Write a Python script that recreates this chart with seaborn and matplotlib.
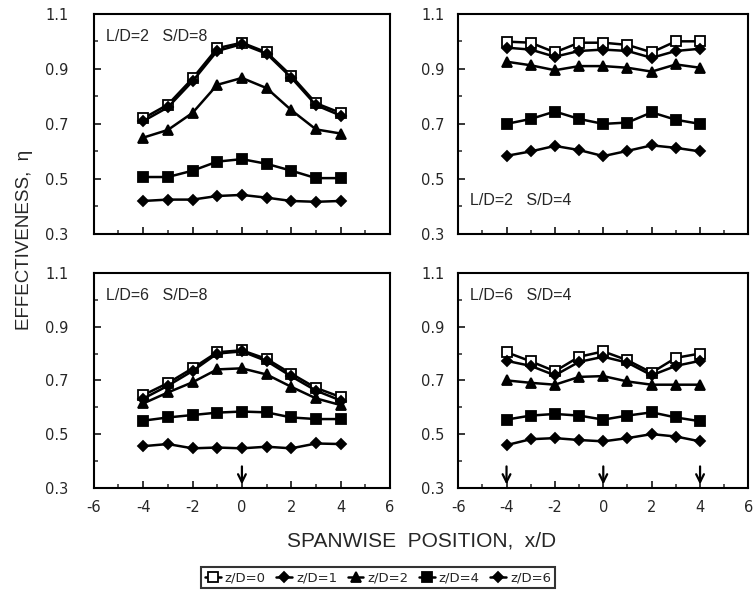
import matplotlib
matplotlib.use("Agg")
import matplotlib.pyplot as plt
import seaborn as sns
import pandas as pd
import numpy as np
from matplotlib.ticker import MultipleLocator

sns.set_theme(style="white")
plt.rcParams['font.family'] = ['Liberation Sans', 'DejaVu Sans']

x_pos = [-4, -3, -2, -1, 0, 1, 2, 3, 4]
series_names = ["z/D=0", "z/D=1", "z/D=2", "z/D=4", "z/D=6"]

# Panel L/D=2 S/D=8
p1_z0 = [0.72, 0.77, 0.865, 0.975, 0.995, 0.96, 0.875, 0.775, 0.74]
p1_z1 = [0.71, 0.76, 0.855, 0.965, 0.99, 0.955, 0.868, 0.768, 0.73]
p1_z2 = [0.65, 0.678, 0.74, 0.842, 0.867, 0.83, 0.75, 0.68, 0.665]
p1_z4 = [0.507, 0.507, 0.53, 0.563, 0.572, 0.555, 0.53, 0.503, 0.503]
p1_z6 = [0.42, 0.425, 0.425, 0.438, 0.442, 0.432, 0.42, 0.417, 0.42]

# Panel L/D=2 S/D=4
p2_z0 = [0.999, 0.995, 0.96, 0.995, 0.995, 0.987, 0.96, 1.0, 1.0]
p2_z1 = [0.977, 0.97, 0.944, 0.965, 0.97, 0.965, 0.94, 0.965, 0.973]
p2_z2 = [0.926, 0.913, 0.895, 0.91, 0.91, 0.904, 0.89, 0.916, 0.904]
p2_z4 = [0.70, 0.718, 0.745, 0.718, 0.70, 0.705, 0.742, 0.715, 0.70]
p2_z6 = [0.584, 0.60, 0.62, 0.605, 0.583, 0.602, 0.622, 0.613, 0.60]

# Panel L/D=6 S/D=8
p3_z0 = [0.645, 0.69, 0.745, 0.805, 0.812, 0.78, 0.725, 0.672, 0.638]
p3_z1 = [0.632, 0.68, 0.735, 0.80, 0.808, 0.772, 0.715, 0.662, 0.625]
p3_z2 = [0.614, 0.655, 0.693, 0.741, 0.745, 0.722, 0.676, 0.633, 0.608]
p3_z4 = [0.55, 0.562, 0.571, 0.58, 0.584, 0.581, 0.562, 0.556, 0.556]
p3_z6 = [0.455, 0.463, 0.447, 0.45, 0.447, 0.453, 0.447, 0.465, 0.463]

# Panel L/D=6 S/D=4
p4_z0 = [0.805, 0.771, 0.734, 0.788, 0.808, 0.775, 0.729, 0.784, 0.80]
p4_z1 = [0.773, 0.754, 0.719, 0.769, 0.788, 0.766, 0.719, 0.754, 0.773]
p4_z2 = [0.70, 0.691, 0.684, 0.713, 0.716, 0.696, 0.684, 0.684, 0.684]
p4_z4 = [0.554, 0.569, 0.575, 0.569, 0.554, 0.569, 0.581, 0.562, 0.548]
p4_z6 = [0.459, 0.481, 0.485, 0.478, 0.473, 0.485, 0.50, 0.491, 0.473]

panel_labels = ["L/D=2   S/D=8", "L/D=2   S/D=4", "L/D=6   S/D=8", "L/D=6   S/D=4"]
arrows_bottom_left = [0]
arrows_bottom_right = [-4, 0, 4]
x_ticks = [-6, -4, -2, 0, 2, 4, 6]
y_ticks = [0.3, 0.5, 0.7, 0.9, 1.1]

panels = [
    [p1_z0, p1_z1, p1_z2, p1_z4, p1_z6],
    [p2_z0, p2_z1, p2_z2, p2_z4, p2_z6],
    [p3_z0, p3_z1, p3_z2, p3_z4, p3_z6],
    [p4_z0, p4_z1, p4_z2, p4_z4, p4_z6],
]

markers = ["s", "D", "^", "s", "D"]
msizes = [6.5, 5.5, 7, 7, 5]
faces = ["white", "black", "black", "black", "black"]

fig = plt.figure(figsize=(7.56, 6.0), dpi=100)
rects = [
    [0.124, 0.610, 0.392, 0.367],
    [0.606, 0.610, 0.384, 0.367],
    [0.124, 0.187, 0.392, 0.358],
    [0.606, 0.187, 0.384, 0.358],
]
label_pos = [(0.04, 0.93, "top"), (0.04, 0.12, "bottom"), (0.04, 0.93, "top"), (0.04, 0.93, "top")]
ypads = [18, 10, 18, 10]
arrow_lists = [[], [], arrows_bottom_left, arrows_bottom_right]
tick_font = "DejaVu Sans"

axes = []
for i, r in enumerate(rects):
    ax = fig.add_axes(r)
    axes.append(ax)
    df = pd.DataFrame({"x": x_pos * 5,
                       "eta": sum(panels[i], []),
                       "series": np.repeat(series_names, len(x_pos))})
    for j, name in enumerate(series_names):
        sub = df[df["series"] == name]
        sns.lineplot(data=sub, x="x", y="eta", ax=ax, color="black", lw=1.8,
                     marker=markers[j], markersize=msizes[j],
                     markerfacecolor=faces[j], markeredgecolor="black",
                     markeredgewidth=1.3, label=name, legend=False)
    ax.set_xlim(-6, 6)
    ax.set_ylim(0.3, 1.1)
    ax.set_xticks(x_ticks)
    ax.xaxis.set_minor_locator(MultipleLocator(1))
    ax.set_yticks(y_ticks)
    ax.yaxis.set_minor_locator(MultipleLocator(0.1))
    ax.tick_params(which="both", direction="in", bottom=True, left=True,
                   top=False, right=False)
    ax.tick_params(axis="y", pad=ypads[i])
    ax.tick_params(axis="x", pad=9)
    ax.tick_params(which="major", length=5, width=1.3)
    ax.tick_params(which="minor", length=3, width=1.1)
    ax.set_yticklabels([f"{v:.1f}" for v in y_ticks], family=tick_font, fontsize=10.5)
    if i < 2:
        ax.set_xticklabels([])
    else:
        ax.set_xticklabels([str(v) for v in x_ticks], family=tick_font, fontsize=10.5)
    ax.set_xlabel("")
    ax.set_ylabel("")
    for s in ax.spines.values():
        s.set_linewidth(1.5)
        s.set_color("black")
    lx, ly, va = label_pos[i]
    ax.text(lx, ly, panel_labels[i], transform=ax.transAxes, fontsize=11.5,
            va=va, ha="left")
    for ax_x in arrow_lists[i]:
        ax.annotate("", xy=(ax_x, 0.302), xytext=(ax_x, 0.39),
                    arrowprops=dict(arrowstyle="->", lw=1.6, color="black",
                                    mutation_scale=14))

fig.text(0.557, 0.098, "SPANWISE  POSITION,  x/D", ha="center", va="center", fontsize=15)
fig.text(0.033, 0.60, "EFFECTIVENESS,  η", ha="center", va="center", rotation=90, fontsize=13.5)

handles, labels = axes[0].get_legend_handles_labels()
leg = fig.legend(handles, labels, loc="center", bbox_to_anchor=(0.5, 0.037), ncol=5,
                 frameon=True, prop={"family": tick_font, "size": 9.5},
                 handlelength=1.2, handletextpad=0.3,
                 columnspacing=0.8, borderpad=0.3, fancybox=False, edgecolor="black")
leg.get_frame().set_linewidth(1.5)

fig.savefig("out.png", dpi=100)
